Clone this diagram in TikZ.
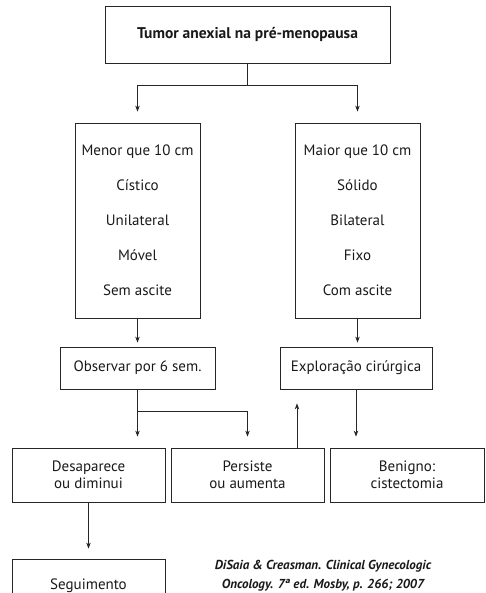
\documentclass[tikz,border=0pt]{standalone}
\usepackage{fontspec}
\setmainfont{PT Sans}
\usetikzlibrary{calc, positioning}
\usetikzlibrary{arrows.meta}

\begin{document}
\begin{tikzpicture}[x=1pt, y=-1pt,
  box/.style={draw=black!85, line width=0.8pt, inner sep=0pt, align=center,
    font=\fontsize{15}{17}\selectfont, text=black!90},
  lnk/.style={draw=black!85, line width=0.8pt},
  arr/.style={lnk, -{Stealth[length=6pt, width=4.5pt]}}]
\useasboundingbox (0,0) rectangle (486,593);
\clip (0,0) rectangle (486,593);

\node[box, minimum width=285pt, minimum height=57pt, font=\fontsize{15.5}{17}\selectfont\bfseries] (top) at (247.5,34.5) {Tumor anexial na pré-menopausa};

\node[box, minimum width=125pt, minimum height=195pt, font=\fontsize{15}{35}\selectfont] (menor) at (137.5,220.5)
  {Menor que 10 cm\\Cístico\\Unilateral\\Móvel\\Sem ascite};
\node[box, minimum width=125pt, minimum height=195pt, font=\fontsize{15}{35}\selectfont] (maior) at (357.5,220.5)
  {Maior que 10 cm\\Sólido\\Bilateral\\Fixo\\Com ascite};

\node[box, minimum width=155pt, minimum height=42pt] (obs) at (137.5,368) {Observar por 6 sem.};
\node[box, minimum width=152pt, minimum height=42pt] (expl) at (356,368) {Exploração cirúrgica};

\node[box, minimum width=153pt, minimum height=54pt] (desap) at (88.5,475) {Desaparece\\ou diminui};
\node[box, minimum width=153pt, minimum height=54pt] (pers) at (247.5,475) {Persiste\\ou aumenta};
\node[box, minimum width=154pt, minimum height=54pt] (benig) at (407,475) {Benigno:\\cistectomia};

\node[box, minimum width=153pt, minimum height=54pt] (seg) at (88.5,586) {Seguimento};

\node[align=center, inner sep=0pt, text=black!90, font=\fontsize{13}{19}\selectfont\bfseries\itshape] (ref) at (323,576)
  {DiSaia \& Creasman. Clinical Gynecologic\\Oncology. 7ª ed. Mosby, p. 266; 2007};

\coordinate (split) at ($(top.south)+(0,22)$);
\draw[lnk] (top.south) -- (split);
\draw[arr, shorten >=11pt] (split) -| (menor.north);
\draw[arr, shorten >=11pt] (split) -| (maior.north);

\draw[arr, shorten >=4pt] (menor.south) -- (obs.north);
\draw[arr, shorten >=4pt] (maior.south) -- (maior.south |- expl.north);

\coordinate (fork) at ($(obs.south)+(0,22)$);
\draw[lnk] (obs.south) -- (fork);
\draw[arr, shorten >=11pt] (fork) -- (fork |- desap.north);
\draw[arr, shorten >=11pt] (fork) -| (pers.north);
\draw[arr, shorten >=14pt] ([xshift=49.5pt]pers.north) -- ([xshift=49.5pt]pers.north |- expl.south);
\draw[arr, shorten >=11pt] (expl.south) -- (expl.south |- benig.north);

\draw[arr, shorten >=10pt] (desap.south) -- (seg.north);
\end{tikzpicture}
\end{document}
